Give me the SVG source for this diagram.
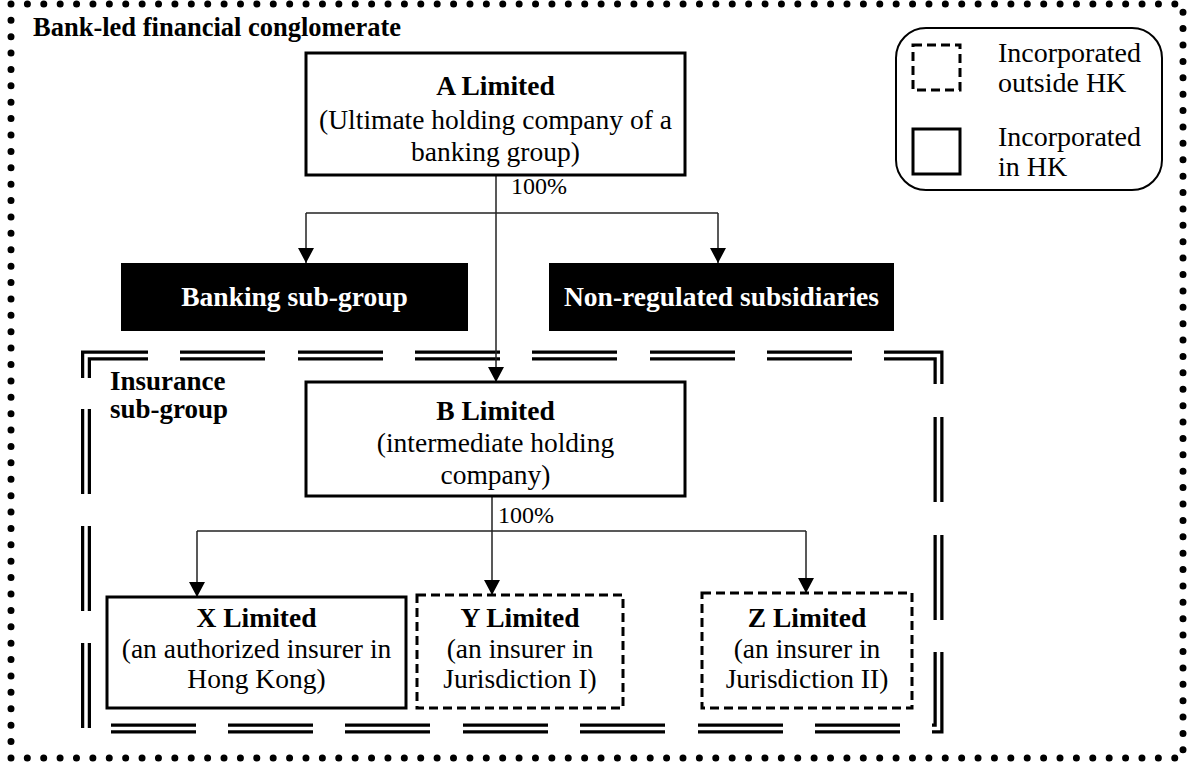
<svg xmlns="http://www.w3.org/2000/svg" width="1187" height="764" viewBox="0 0 1187 764">
<defs>
<style>
text{font-family:"Liberation Serif","Times New Roman",serif;fill:#000}
.b{font-weight:bold}
.t{font-size:27.5px;text-anchor:middle}
.w{fill:#fff}
.box{fill:#fff;stroke:#000;stroke-width:3}
.dbox{fill:#fff;stroke:#000;stroke-width:3;stroke-dasharray:9 5}
.blk{fill:#000;stroke:none}
.con{fill:none;stroke:#222;stroke-width:1.5}
.pct{font-size:24px}
.lg{font-size:28px}
.ins{font-size:27px;font-weight:bold}
</style>
<marker id="ah" markerUnits="userSpaceOnUse" markerWidth="16" markerHeight="16" viewBox="0 0 16 16" refX="15" refY="8" orient="auto">
<path d="M0,0 L15,8 L0,16 Z" fill="#000"/>
</marker>
</defs>
<rect width="1187" height="764" fill="#fff"/>

<g id="outer-frame">
<rect x="11" y="4" width="1172" height="754" fill="none" stroke="#000" stroke-width="7" stroke-linecap="round" stroke-dasharray="0 16.392"/>
<text x="33" y="36" class="b" style="font-size:26.5px">Bank-led financial conglomerate</text>
</g>

<g id="insurance-frame">
<path d="M86,378 V355.5 H148 M180,355.5 H265 M298,355.5 H383 M415,355.5 H500 M532,355.5 H617 M650,355.5 H735 M767,355.5 H852 M884,355.5 H938.5 V384 M938.5,417 V502 M938.5,535 V620 M938.5,652 V728.5 H932 M900,728.5 H815 M783,728.5 H698 M665,728.5 H580 M548,728.5 H463 M430,728.5 H345 M313,728.5 H228 M196,728.5 H111 M86,728 V643 M86,611 V526 M86,494 V409" fill="none" stroke="#000" stroke-width="10"/>
<path d="M86,378 V355.5 H148 M180,355.5 H265 M298,355.5 H383 M415,355.5 H500 M532,355.5 H617 M650,355.5 H735 M767,355.5 H852 M884,355.5 H938.5 V384 M938.5,417 V502 M938.5,535 V620 M938.5,652 V728.5 H932 M900,728.5 H815 M783,728.5 H698 M665,728.5 H580 M548,728.5 H463 M430,728.5 H345 M313,728.5 H228 M196,728.5 H111 M86,728 V643 M86,611 V526 M86,494 V409" fill="none" stroke="#fff" stroke-width="3.5"/>
<text class="ins" x="110" y="390">Insurance</text>
<text class="ins" x="110" y="418">sub-group</text>
</g>

<g id="connectors">
<path class="con" d="M496,175 V382" marker-end="url(#ah)"/>
<path class="con" d="M306,213 H718"/>
<path class="con" d="M306,213 V263" marker-end="url(#ah)"/>
<path class="con" d="M718,213 V263" marker-end="url(#ah)"/>
<path class="con" d="M492,496 V595" marker-end="url(#ah)"/>
<path class="con" d="M197,531 H806"/>
<path class="con" d="M197,531 V597" marker-end="url(#ah)"/>
<path class="con" d="M806,531 V593" marker-end="url(#ah)"/>
<text class="pct" x="511" y="194">100%</text>
<text class="pct" x="498" y="523">100%</text>
</g>

<g id="node-a">
<rect class="box" x="306" y="53" width="379" height="122"/>
<text class="t b" x="495.5" y="95">A Limited</text>
<text class="t" x="495.5" y="129">(Ultimate holding company of a</text>
<text class="t" x="495.5" y="161">banking group)</text>
</g>

<g id="node-banking">
<rect class="blk" x="121" y="263" width="347" height="68"/>
<text class="t b w" x="294.5" y="306">Banking sub-group</text>
</g>

<g id="node-nonreg">
<rect class="blk" x="549" y="263" width="345" height="68"/>
<text class="t b w" x="721.5" y="306">Non-regulated subsidiaries</text>
</g>

<g id="node-b">
<rect class="box" x="306" y="382" width="379" height="114"/>
<text class="t b" x="495.5" y="420">B Limited</text>
<text class="t" x="495.5" y="452">(intermediate holding</text>
<text class="t" x="495.5" y="484">company)</text>
</g>

<g id="node-x">
<rect class="box" x="107" y="597" width="299" height="111"/>
<text class="t b" x="256.5" y="627">X Limited</text>
<text class="t" x="256.5" y="658">(an authorized insurer in</text>
<text class="t" x="256.5" y="688">Hong Kong)</text>
</g>

<g id="node-y">
<rect class="dbox" x="417" y="595" width="206" height="113"/>
<text class="t b" x="520" y="627">Y Limited</text>
<text class="t" x="520" y="658">(an insurer in</text>
<text class="t" x="520" y="688">Jurisdiction I)</text>
</g>

<g id="node-z">
<rect class="dbox" x="702" y="593" width="210" height="115"/>
<text class="t b" x="807" y="627">Z Limited</text>
<text class="t" x="807" y="658">(an insurer in</text>
<text class="t" x="807" y="688">Jurisdiction II)</text>
</g>

<g id="legend">
<rect x="896" y="28" width="266" height="162" rx="30" fill="#fff" stroke="#000" stroke-width="2"/>
<rect class="dbox" x="913" y="45" width="47" height="45"/>
<rect class="box" x="913" y="129" width="47" height="45"/>
<text class="lg" x="998" y="62">Incorporated</text>
<text class="lg" x="998" y="92">outside HK</text>
<text class="lg" x="998" y="146">Incorporated</text>
<text class="lg" x="998" y="176">in HK</text>
</g>
</svg>
